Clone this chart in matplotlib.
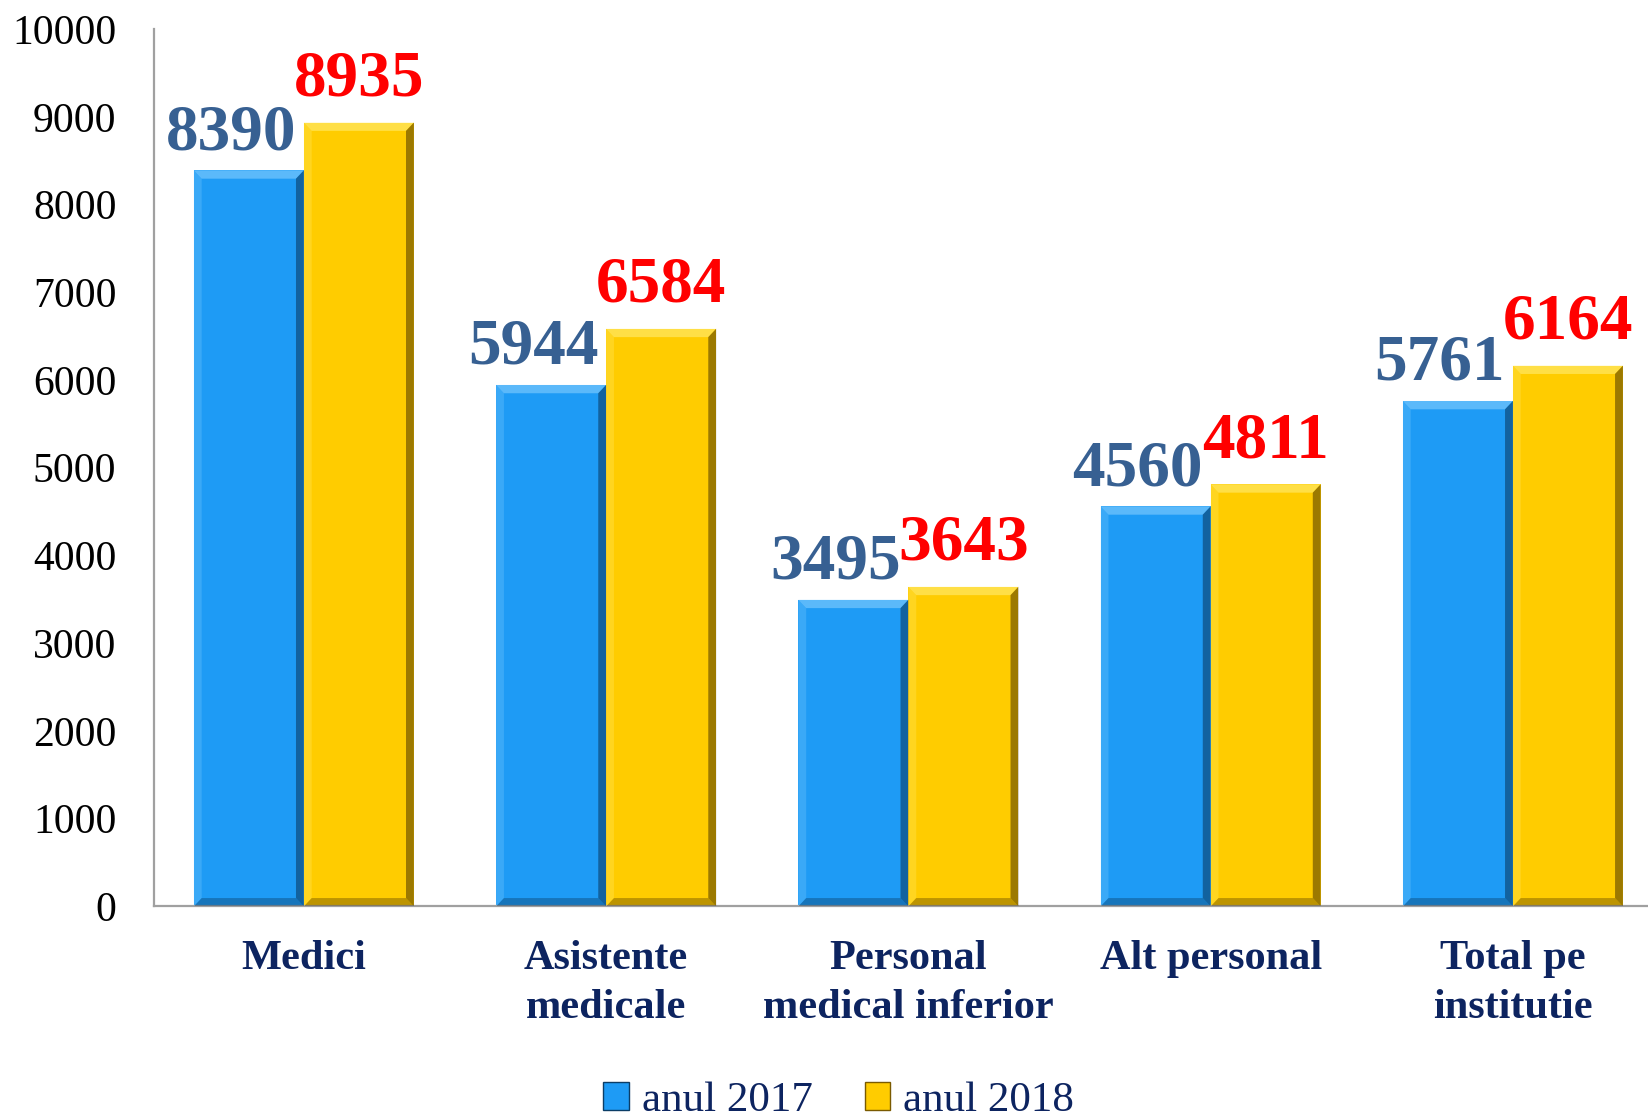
import numpy as np
import matplotlib
matplotlib.use("Agg")
import matplotlib.pyplot as plt
from matplotlib.patches import Polygon, Patch

# data
categories = ["Medici", "Asistente\nmedicale", "Personal\nmedical inferior",
              "Alt personal", "Total pe\ninstitutie"]
values_2017 = [8390, 5944, 3495, 4560, 5761]
values_2018 = [8935, 6584, 3643, 4811, 6164]
series_names = ["anul 2017", "anul 2018"]
yticks = [0, 1000, 2000, 3000, 4000, 5000, 6000, 7000, 8000, 9000, 10000]

blue = "#1E9BF5"
yellow = "#FFCC00"
navy = "#0D2460"

plt.rcParams["font.family"] = ["Liberation Serif", "DejaVu Serif"]

fig = plt.figure(figsize=(16.48, 11.19), dpi=100)
ax = fig.add_axes([0.0934, 0.190, 0.9066, 0.784])

x = np.arange(len(categories))
w = 0.364
b1 = ax.bar(x - w / 2, values_2017, w, color=blue, zorder=2)
b2 = ax.bar(x + w / 2, values_2018, w, color=yellow, zorder=2)

ax.set_xlim(-0.496, 4.447)
ax.set_ylim(0, 10000)

# bevel look on each bar
bx = 0.026
by = 95


def bevel(rect, light, dark):
    x0, y0 = rect.get_x(), rect.get_y()
    x1, y1 = x0 + rect.get_width(), y0 + rect.get_height()
    faces = [
        ([(x0, y1), (x1, y1), (x1 - bx, y1 - by), (x0 + bx, y1 - by)], light, 0.55),
        ([(x0, y0), (x0, y1), (x0 + bx, y1 - by), (x0 + bx, y0 + by)], light, 0.25),
        ([(x1, y0), (x1, y1), (x1 - bx, y1 - by), (x1 - bx, y0 + by)], dark, 0.6),
        ([(x0, y0), (x1, y0), (x1 - bx, y0 + by), (x0 + bx, y0 + by)], dark, 0.4),
    ]
    for pts, c, a in faces:
        ax.add_patch(Polygon(pts, closed=True, facecolor=c, alpha=a,
                             edgecolor="none", zorder=3))


for r in b1:
    bevel(r, "#8FD3FF", "#0B3D66")
for r in b2:
    bevel(r, "#FFF080", "#5A4200")

# value labels
for xi, v in zip(x, values_2017):
    ax.text(xi - w / 2 - 0.06, v + 80, str(v), ha="center", va="bottom",
            fontsize=47, fontweight="bold", color="#376092")
for xi, v in zip(x, values_2018):
    ax.text(xi + w / 2, v + 150, str(v), ha="center", va="bottom",
            fontsize=47, fontweight="bold", color="#FF0000")

ax.set_yticks(yticks)
ax.set_yticklabels([str(t) for t in yticks], fontsize=30, color="black")
ax.set_xticks(x)
ax.set_xticklabels(categories, fontsize=30.5, fontweight="bold", color=navy,
                   linespacing=1.4, va="top")
ax.tick_params(axis="both", length=0)
ax.tick_params(axis="y", pad=27)
ax.tick_params(axis="x", pad=24)

for s in ["top", "right"]:
    ax.spines[s].set_visible(False)
for s in ["left", "bottom"]:
    ax.spines[s].set_color("#A0A0A0")
    ax.spines[s].set_linewidth(1.6)

handles = [Patch(facecolor=blue, edgecolor="#0B3D66"),
           Patch(facecolor=yellow, edgecolor="#7A5A00")]
fig.legend(handles, series_names, loc="lower center",
           bbox_to_anchor=(0.509, -0.026), borderpad=0.15,
           ncol=2, frameon=False, fontsize=31, labelcolor=navy,
           handlelength=0.6, handleheight=0.6, handletextpad=0.3,
           columnspacing=1.2)

fig.savefig("out.png", dpi=100)
